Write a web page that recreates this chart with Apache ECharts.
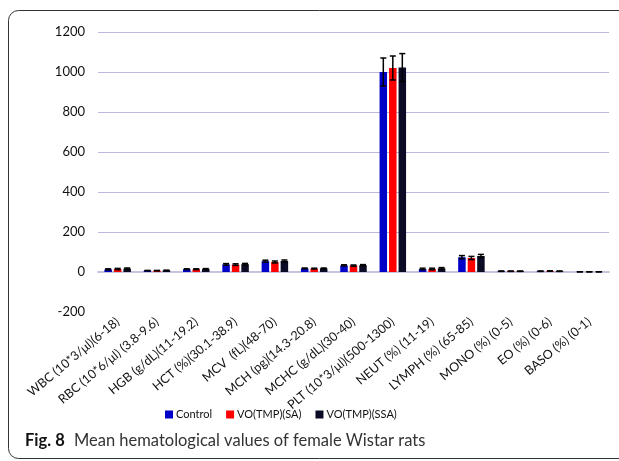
<!DOCTYPE html>
<html><head><meta charset="utf-8">
<script src="https://cdn.jsdelivr.net/npm/echarts@6/dist/echarts.min.js"></script>
<style>html,body{margin:0;padding:0;background:#fff}#c{width:619px;height:461px}</style>
</head><body><div id="c"></div>
<script>
const cats = ["WBC (10*3/μl)(6-18)","RBC (10*6/μl) (3.8-9.6)","HGB (g/dL)(11-19.2)","HCT (%)(30.1-38.9)","MCV  (fL)(48-70)","MCH (pg)(14.3-20.8)","MCHC (g/dL)(30-40)","PLT (10*3/μl)(500-1300)","NEUT (%) (11-19)","LYMPH (%) (65-85)","MONO (%) (0-5)","EO (%) (0-6)","BASO (%) (0-1)"];
const seriesNames = ["Control","VO(TMP)(SA)","VO(TMP)(SSA)"];
const control = [13, 7, 14, 38, 54, 18, 33, 1000, 15, 74, 4, 4, 1];
const sa      = [15, 7, 14, 37, 50, 17, 32, 1020, 15, 70, 4, 5, 1];
const ssa     = [17, 8, 15, 39, 55, 18, 34, 1022, 18, 80, 4, 4, 1];
const errControl = [3, 1, 2, 4, 5, 2, 3, 70, 4, 8, 1, 1, 0.3];
const errSA      = [3, 1, 2, 4, 5, 2, 3, 60, 4, 8, 1, 1, 0.3];
const errSSA     = [3, 1, 2, 4, 5, 2, 3, 70, 4, 8, 1, 1, 0.3];
const yTicks = {min: -200, max: 1200, interval: 200};
</script>
<script>
const chart = echarts.init(document.getElementById('c'));
const colors = ['#0000c8', '#ff0000', '#0b0b26'];
const vals = [control, sa, ssa];
const errs = [errControl, errSA, errSSA];
const BW = 7.5, GAP = 2;
function errSeries(k) {
  return {
    type: 'custom', z: 10, silent: true,
    data: vals[k].map((v, i) => [i, v, errs[k][i]]),
    renderItem: function (params, api) {
      const i = api.value(0), v = api.value(1), e = api.value(2);
      const top = api.coord([i, v + e]), bot = api.coord([i, v - e]);
      const x = top[0] + (k - 1) * (BW + GAP);
      const cw = 3;
      const st = {stroke: '#000', lineWidth: 1.5};
      return {type: 'group', children: [
        {type: 'line', shape: {x1: x, y1: top[1], x2: x, y2: bot[1]}, style: st},
        {type: 'line', shape: {x1: x - cw, y1: top[1], x2: x + cw, y2: top[1]}, style: st},
        {type: 'line', shape: {x1: x - cw, y1: bot[1], x2: x + cw, y2: bot[1]}, style: st}
      ]};
    }
  };
}
const series = [];
for (let k = 0; k < 3; k++) {
  series.push({
    name: seriesNames[k], type: 'bar', data: vals[k], barWidth: BW, barGap: (GAP / BW * 100) + '%',
    itemStyle: {color: colors[k]}
  });
}
for (let k = 0; k < 3; k++) series.push(errSeries(k));

chart.setOption({
  animation: false,
  backgroundColor: '#fff',
  textStyle: {fontFamily: 'Lato'},
  grid: {left: 98, right: 10, top: 32, bottom: 149},
  legend: {
    data: seriesNames, left: 160, top: 404, itemWidth: 8, itemHeight: 8, itemGap: 14,
    icon: 'rect', textStyle: {fontSize: 11, color: '#111', fontFamily: 'Lato', padding: [0, 0, 0, -2]}
  },
  title: {
    text: '{b|Fig. 8}  {n|Mean hematological values of female Wistar rats}',
    left: 20, top: 427,
    textStyle: {fontWeight: 'normal', rich: {
      b: {fontSize: 16.5, fontWeight: 'bold', fontFamily: 'Lato', color: '#111'},
      n: {fontSize: 16.5, fontWeight: 'normal', fontFamily: 'Lato', color: '#333'}
    }}
  },
  xAxis: {
    type: 'category', data: cats,
    axisLine: {onZero: true, lineStyle: {color: '#c4c4de', width: 2}},
    axisTick: {show: false},
    axisLabel: {rotate: 40, interval: 0, fontSize: 12.5, color: '#111', margin: 8, fontFamily: 'Lato'}
  },
  yAxis: {
    type: 'value', min: yTicks.min, max: yTicks.max, interval: yTicks.interval,
    axisLine: {show: false}, axisTick: {show: false},
    axisLabel: {fontSize: 13, color: '#111', margin: 13, fontFamily: 'Lato', formatter: v => String(v)},
    splitLine: {lineStyle: {color: '#b8b8e0', width: 1.2}, showMinLine: false}
  },
  graphic: [{
    type: 'rect', silent: true, z: -1,
    shape: {x: 8.5, y: 10.5, width: 640, height: 448, r: 10},
    style: {fill: 'none', stroke: '#333', lineWidth: 1}
  }],
  series: series
});
</script>
</body></html>
